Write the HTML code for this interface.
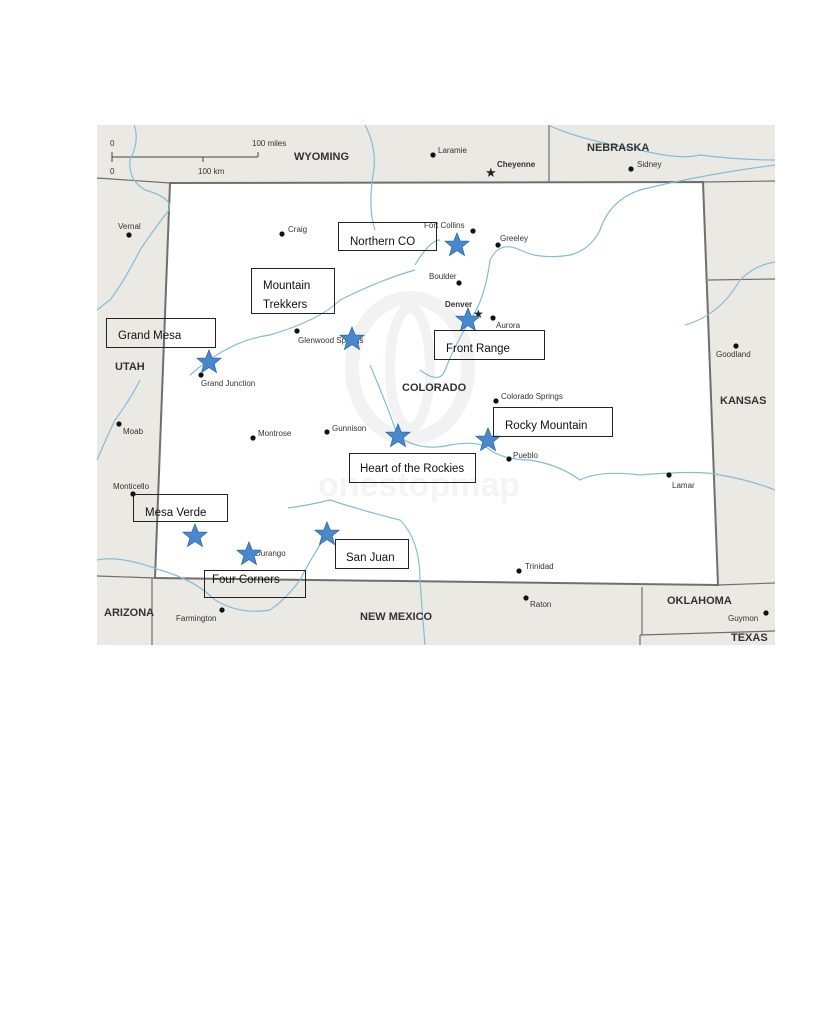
<!DOCTYPE html>
<html><head><meta charset="utf-8"><style>
html,body{margin:0;padding:0;background:#fff;width:827px;height:1024px;overflow:hidden}
svg{display:block}
.c{font-family:"Liberation Sans",sans-serif;font-size:8px;fill:#333}
.s{font-family:"Liberation Sans",sans-serif;font-size:11px;font-weight:bold;fill:#333}
.b{font-family:"Liberation Sans",sans-serif;font-size:11.5px;fill:#111}
.r{fill:none;stroke:#86bcd6;stroke-width:1.2}
.bx{fill:none;stroke:#222;stroke-width:1}
</style></head><body>
<svg width="827" height="1024" viewBox="0 0 827 1024" xmlns="http://www.w3.org/2000/svg">
<defs>
<polygon id="st" points="0,-12 3.2,-4 12,-3.7 5.1,2 7.5,10.5 0,5.6 -7.5,10.5 -5.1,2 -12,-3.7 -3.2,-4" fill="#4a88cc" stroke="#2f6aa8" stroke-width="0.8"/>
</defs>
<rect x="97" y="125" width="678" height="520" fill="#ebe9e4"/>
<polygon points="170,183 703,182 718,585 155,578" fill="#fff" stroke="#6f6f6f" stroke-width="2"/>
<ellipse cx="410" cy="368" rx="58" ry="70" fill="none" stroke="#f2f2f2" stroke-width="14"/>
<ellipse cx="410" cy="368" rx="20" ry="60" fill="none" stroke="#f2f2f2" stroke-width="10"/>
<text x="318" y="496" font-family="Liberation Sans,sans-serif" font-size="34" font-weight="bold" fill="#f4f4f4">onestopmap</text>
<g stroke="#6f6f6f" stroke-width="1.2" fill="none">
<line x1="97" y1="178" x2="170" y2="183"/>
<line x1="703" y1="182" x2="775" y2="181"/>
<line x1="549" y1="125" x2="549" y2="183"/>
<line x1="708" y1="280" x2="775" y2="279"/>
<line x1="97" y1="576" x2="155" y2="578"/>
<line x1="152" y1="578" x2="152" y2="645"/>
<line x1="718" y1="585" x2="775" y2="583"/>
<line x1="642" y1="587" x2="642" y2="635"/>
<line x1="640" y1="635" x2="775" y2="631"/>
<line x1="640" y1="635" x2="640" y2="645"/>
</g>
<g stroke="#444" stroke-width="1" fill="none">
<line x1="112" y1="157" x2="258" y2="157"/><line x1="112" y1="152" x2="112" y2="162"/><line x1="258" y1="152" x2="258" y2="157"/><line x1="203" y1="157" x2="203" y2="162"/>
</g>
<text x="110" y="146" class="c" font-size="7">0</text><text x="252" y="146" class="c" font-size="7">100 miles</text>
<text x="110" y="174" class="c" font-size="7">0</text><text x="198" y="174" class="c" font-size="7">100 km</text>
<path class="r" d="M134,125 Q140,140 130,160 Q128,180 145,190 Q180,200 165,215 Q150,235 140,250 Q125,280 110,300 L97,310"/>
<path class="r" d="M190,375 Q230,340 270,335 Q320,320 340,300 Q380,280 415,270"/>
<path class="r" d="M365,125 Q378,150 373,175 Q368,210 375,230"/>
<path class="r" d="M415,265 Q430,240 440,240"/>
<path class="r" d="M548,125 Q580,140 640,150 Q680,160 700,155 Q740,160 775,160"/>
<path class="r" d="M775,165 Q700,175 640,190 Q610,200 600,230 Q590,250 570,255 Q540,260 520,250 Q500,240 490,260 Q485,300 470,320 Q455,345 445,370 Q440,385 420,370"/>
<path class="r" d="M685,325 Q720,315 740,280 Q755,265 775,262"/>
<path class="r" d="M370,365 Q385,400 398,436 Q420,452 450,445 Q480,440 490,450 Q505,460 530,460 Q560,465 580,480 Q600,470 640,475 Q700,470 720,475 Q750,480 775,490"/>
<path class="r" d="M288,508 Q310,505 330,500 Q360,510 400,520 Q420,540 420,580 Q422,610 425,645"/>
<path class="r" d="M327,534 Q310,560 300,580 Q285,600 270,610 Q240,615 215,600 Q195,580 160,570 Q120,555 97,560"/>
<path class="r" d="M97,460 Q110,430 115,420 Q130,400 140,380"/>
<text x="294" y="160" class="s">WYOMING</text>
<text x="587" y="151" class="s">NEBRASKA</text>
<text x="115" y="370" class="s">UTAH</text>
<text x="402" y="391" class="s">COLORADO</text>
<text x="720" y="404" class="s">KANSAS</text>
<text x="104" y="616" class="s" font-size="9.5">ARIZONA</text>
<text x="360" y="620" class="s">NEW MEXICO</text>
<text x="667" y="604" class="s">OKLAHOMA</text>
<text x="731" y="641" class="s" font-size="7.5">TEXAS</text>
<g fill="#111">
<circle cx="433" cy="155" r="2.6"/><circle cx="631" cy="169" r="2.6"/><circle cx="129" cy="235" r="2.6"/>
<circle cx="282" cy="234" r="2.6"/><circle cx="473" cy="231" r="2.6"/><circle cx="498" cy="245" r="2.6"/>
<circle cx="459" cy="283" r="2.6"/><circle cx="493" cy="318" r="2.6"/><circle cx="297" cy="331" r="2.6"/>
<circle cx="736" cy="346" r="2.6"/><circle cx="201" cy="375" r="2.6"/><circle cx="496" cy="401" r="2.6"/>
<circle cx="119" cy="424" r="2.6"/><circle cx="253" cy="438" r="2.6"/><circle cx="327" cy="432" r="2.6"/>
<circle cx="509" cy="459" r="2.6"/><circle cx="669" cy="475" r="2.6"/><circle cx="133" cy="494" r="2.6"/>
<circle cx="519" cy="571" r="2.6"/><circle cx="526" cy="598" r="2.6"/><circle cx="222" cy="610" r="2.6"/><circle cx="766" cy="613" r="2.6"/>
</g>
<text x="485" y="177" font-size="13" fill="#222" font-family="DejaVu Sans">★</text>
<text x="473" y="318" font-size="12" fill="#222" font-family="DejaVu Sans">★</text>
<g class="c">
<text x="438" y="153">Laramie</text><text x="497" y="167" font-weight="bold">Cheyenne</text><text x="637" y="167">Sidney</text>
<text x="118" y="229">Vernal</text><text x="288" y="232">Craig</text><text x="424" y="228">Fort Collins</text><text x="500" y="241">Greeley</text>
<text x="429" y="279">Boulder</text><text x="445" y="307" font-weight="bold">Denver</text><text x="496" y="328">Aurora</text>
<text x="298" y="343">Glenwood Springs</text><text x="716" y="357">Goodland</text><text x="201" y="386">Grand Junction</text>
<text x="501" y="399">Colorado Springs</text><text x="123" y="434">Moab</text><text x="258" y="436">Montrose</text><text x="332" y="431">Gunnison</text>
<text x="513" y="458">Pueblo</text><text x="672" y="488">Lamar</text><text x="113" y="489">Monticello</text><text x="255" y="556">Durango</text>
<text x="525" y="569">Trinidad</text><text x="530" y="607">Raton</text><text x="176" y="621">Farmington</text><text x="728" y="621">Guymon</text>
</g>
<use href="#st" x="457" y="245"/><use href="#st" x="209" y="362"/>
<use href="#st" x="352" y="339"/><use href="#st" x="468" y="320"/><use href="#st" x="398" y="436"/>
<use href="#st" x="488" y="440"/><use href="#st" x="195" y="536"/><use href="#st" x="249" y="554"/><use href="#st" x="327" y="534"/>
<rect class="bx" x="338.5" y="222.5" width="98" height="28"/><text x="350" y="245" class="b">Northern CO</text>
<rect class="bx" x="251.5" y="268.5" width="83" height="45"/><text x="263" y="289" class="b">Mountain</text><text x="263" y="308" class="b">Trekkers</text>
<rect class="bx" x="106.5" y="318.5" width="109" height="29"/><text x="118" y="339" class="b">Grand Mesa</text>
<rect class="bx" x="434.5" y="330.5" width="110" height="29"/><text x="446" y="352" class="b">Front Range</text>
<rect class="bx" x="493.5" y="407.5" width="119" height="29"/><text x="505" y="429" class="b">Rocky Mountain</text>
<rect class="bx" x="349.5" y="453.5" width="126" height="29"/><text x="360" y="472" class="b">Heart of the Rockies</text>
<rect class="bx" x="133.5" y="494.5" width="94" height="27"/><text x="145" y="516" class="b">Mesa Verde</text>
<rect class="bx" x="335.5" y="539.5" width="73" height="29"/><text x="346" y="561" class="b">San Juan</text>
<rect class="bx" x="204.5" y="570.5" width="101" height="27"/><text x="212" y="583" class="b">Four Corners</text>
</svg>
</body></html>
